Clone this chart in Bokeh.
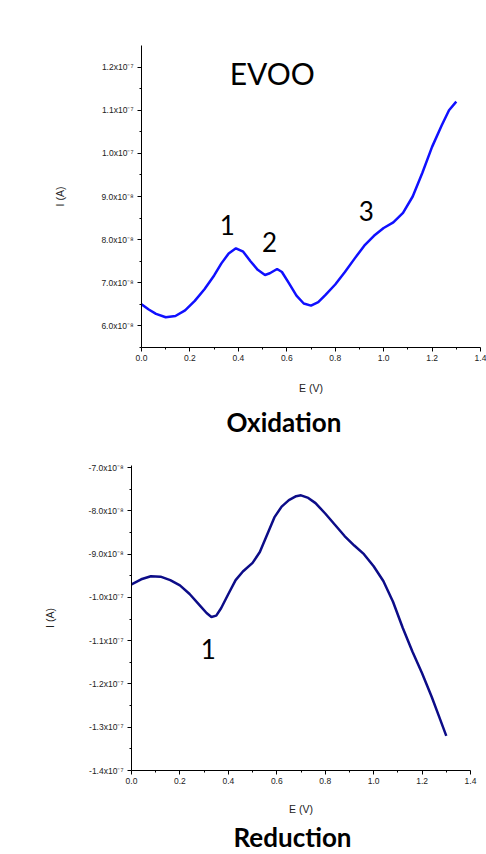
from bokeh.plotting import figure
from bokeh.models import Range1d, FixedTicker, CustomJSTickFormatter, Title
from bokeh.core.properties import value
from bokeh.embed import file_html
from bokeh.resources import INLINE

SCALE = 1e-8  # stored current values are in units of 1e-8 A

# ---- Oxidation (EVOO) ----
ox_E = [0.00, 0.03, 0.06, 0.10, 0.14, 0.18, 0.22, 0.26, 0.30, 0.33, 0.36, 0.39,
        0.42, 0.45, 0.48, 0.51, 0.53, 0.56, 0.58, 0.61, 0.64, 0.67, 0.70, 0.73,
        0.76, 0.80, 0.84, 0.88, 0.92, 0.96, 1.00, 1.04, 1.08, 1.12, 1.16, 1.20,
        1.24, 1.27, 1.30]
ox_I = [6.50, 6.38, 6.28, 6.20, 6.23, 6.36, 6.58, 6.85, 7.17, 7.45, 7.68, 7.80,
        7.72, 7.50, 7.30, 7.18, 7.22, 7.32, 7.25, 6.98, 6.70, 6.52, 6.47, 6.55,
        6.72, 6.96, 7.25, 7.56, 7.86, 8.09, 8.27, 8.40, 8.62, 9.00, 9.55, 10.15,
        10.65, 11.00, 11.20]

# ---- Reduction ----
red_E = [0.00, 0.04, 0.08, 0.12, 0.16, 0.20, 0.24, 0.28, 0.31, 0.33, 0.35, 0.37,
         0.40, 0.43, 0.46, 0.50, 0.53, 0.56, 0.59, 0.62, 0.65, 0.68, 0.70, 0.73,
         0.76, 0.80, 0.84, 0.88, 0.92, 0.96, 1.00, 1.04, 1.08, 1.12, 1.16, 1.20,
         1.24, 1.27, 1.30]
red_I = [-9.70, -9.58, -9.51, -9.52, -9.60, -9.72, -9.92, -10.17, -10.36, -10.45,
         -10.42, -10.25, -9.92, -9.60, -9.40, -9.20, -8.95, -8.55, -8.15, -7.90,
         -7.75, -7.66, -7.64, -7.70, -7.82, -8.06, -8.32, -8.58, -8.80, -9.00,
         -9.28, -9.62, -10.10, -10.70, -11.25, -11.75, -12.30, -12.75, -13.20]

x_ticks = [0.0, 0.2, 0.4, 0.6, 0.8, 1.0, 1.2, 1.4]
x_minor = [0.1, 0.3, 0.5, 0.7, 0.9, 1.1, 1.3]

ox_y_ticks = [6.0e-8, 7.0e-8, 8.0e-8, 9.0e-8, 1.0e-7, 1.1e-7, 1.2e-7]
ox_y_labels = ["6.0x10\u207b\u2078", "7.0x10\u207b\u2078", "8.0x10\u207b\u2078",
               "9.0x10\u207b\u2078", "1.0x10\u207b\u2077", "1.1x10\u207b\u2077",
               "1.2x10\u207b\u2077"]
ox_y_minor = [5.5e-8, 6.5e-8, 7.5e-8, 8.5e-8, 9.5e-8, 1.05e-7, 1.15e-7]

red_y_ticks = [-1.4e-7, -1.3e-7, -1.2e-7, -1.1e-7, -1.0e-7, -9.0e-8, -8.0e-8, -7.0e-8]
red_y_labels = ["-1.4x10\u207b\u2077", "-1.3x10\u207b\u2077", "-1.2x10\u207b\u2077",
                "-1.1x10\u207b\u2077", "-1.0x10\u207b\u2077", "-9.0x10\u207b\u2078",
                "-8.0x10\u207b\u2078", "-7.0x10\u207b\u2078"]
red_y_minor = [-1.35e-7, -1.25e-7, -1.15e-7, -1.05e-7, -9.5e-8, -8.5e-8, -7.5e-8]

# annotation texts and their anchor positions (data units, I in 1e-8 A)
ox_ann_text = ["EVOO", "1", "2", "3"]
ox_ann_E = [0.54, 0.354, 0.529, 0.928]
ox_ann_I = [11.86, 8.33, 7.94, 8.66]
ox_ann_size = ["30px", "26px", "26px", "26px"]
red_ann_text = ["1"]
red_ann_E = [0.317]
red_ann_I = [-11.2]

FMT_CODE = """
for (let i = 0; i < tv.length; i++) {
  if (Math.abs(tv[i] - tick) < 1e-12) return tl[i];
}
return "";
"""


def style(p, yt, yl, ym, lab_standoff_x, lab_standoff_y):
    p.grid.visible = False
    p.outline_line_color = None
    p.xaxis.ticker = FixedTicker(ticks=x_ticks, minor_ticks=x_minor)
    p.yaxis.ticker = FixedTicker(ticks=yt, minor_ticks=ym)
    p.yaxis.formatter = CustomJSTickFormatter(args=dict(tv=yt, tl=yl), code=FMT_CODE)
    p.xaxis.formatter = CustomJSTickFormatter(code="return tick.toFixed(1);")
    for ax in (p.xaxis, p.yaxis):
        ax.axis_line_color = "black"
        ax.axis_line_width = 1
        ax.major_tick_line_color = "black"
        ax.minor_tick_line_color = "black"
        ax.major_tick_out = 4
        ax.major_tick_in = 0
        ax.minor_tick_out = 2
        ax.minor_tick_in = 0
        ax.major_label_text_font = "Liberation Sans"
        ax.major_label_text_font_size = "8.5px"
        ax.major_label_text_color = "#222222"
        ax.axis_label_text_font = "Liberation Sans"
        ax.axis_label_text_font_size = "10.5px"
        ax.axis_label_text_font_style = "normal"
        ax.axis_label_text_color = "#222222"
    p.xaxis.major_label_standoff = 3
    p.yaxis.major_label_standoff = 4
    p.xaxis.axis_label_standoff = lab_standoff_x
    p.yaxis.axis_label_standoff = lab_standoff_y


# ---------- top figure ----------
p1 = figure(width=486, height=445, output_backend="svg", toolbar_location=None,
            x_range=Range1d(0, 1.4), y_range=Range1d(5.5e-8, 1.25e-7),
            x_axis_label="E (V)", y_axis_label="I (A)",
            min_border_left=141, min_border_right=6, min_border_top=45,
            min_border_bottom=96)
p1.title.visible = False
style(p1, ox_y_ticks, ox_y_labels, ox_y_minor, 18, 32)
p1.line(ox_E, [i * SCALE for i in ox_I], line_color="#1010ff", line_width=2.5)
p1.text(x=ox_ann_E, y=[i * SCALE for i in ox_ann_I], text=ox_ann_text,
        text_font=value("Lato"), text_font_size=ox_ann_size,
        text_align="center", text_baseline="middle", text_color="black")
p1.add_layout(Title(text="Oxidation", align="left", offset=85,
                    text_font="Lato", text_font_size="26px",
                    text_font_style="bold", text_color="black", standoff=15),
              "below")

# ---------- bottom figure ----------
p2 = figure(width=486, height=409, output_backend="svg", toolbar_location=None,
            x_range=Range1d(0, 1.4), y_range=Range1d(-1.4e-7, -6.95e-8),
            x_axis_label="E (V)", y_axis_label="I (A)",
            min_border_left=131, min_border_right=16, min_border_top=20,
            min_border_bottom=82)
p2.title.visible = False
style(p2, red_y_ticks, red_y_labels, red_y_minor, 16, 30)
p2.line(red_E, [i * SCALE for i in red_I], line_color="#0c0c88", line_width=2.5)
p2.text(x=red_ann_E, y=[i * SCALE for i in red_ann_I], text=red_ann_text,
        text_font=value("Lato"), text_font_size="26px",
        text_align="center", text_baseline="middle", text_color="black")
p2.add_layout(Title(text="Reduction", align="left", offset=102,
                    text_font="Lato", text_font_size="26px",
                    text_font_style="bold", text_color="black", standoff=3),
              "below")

open("out.html", "w").write(file_html([p1, p2], INLINE))
